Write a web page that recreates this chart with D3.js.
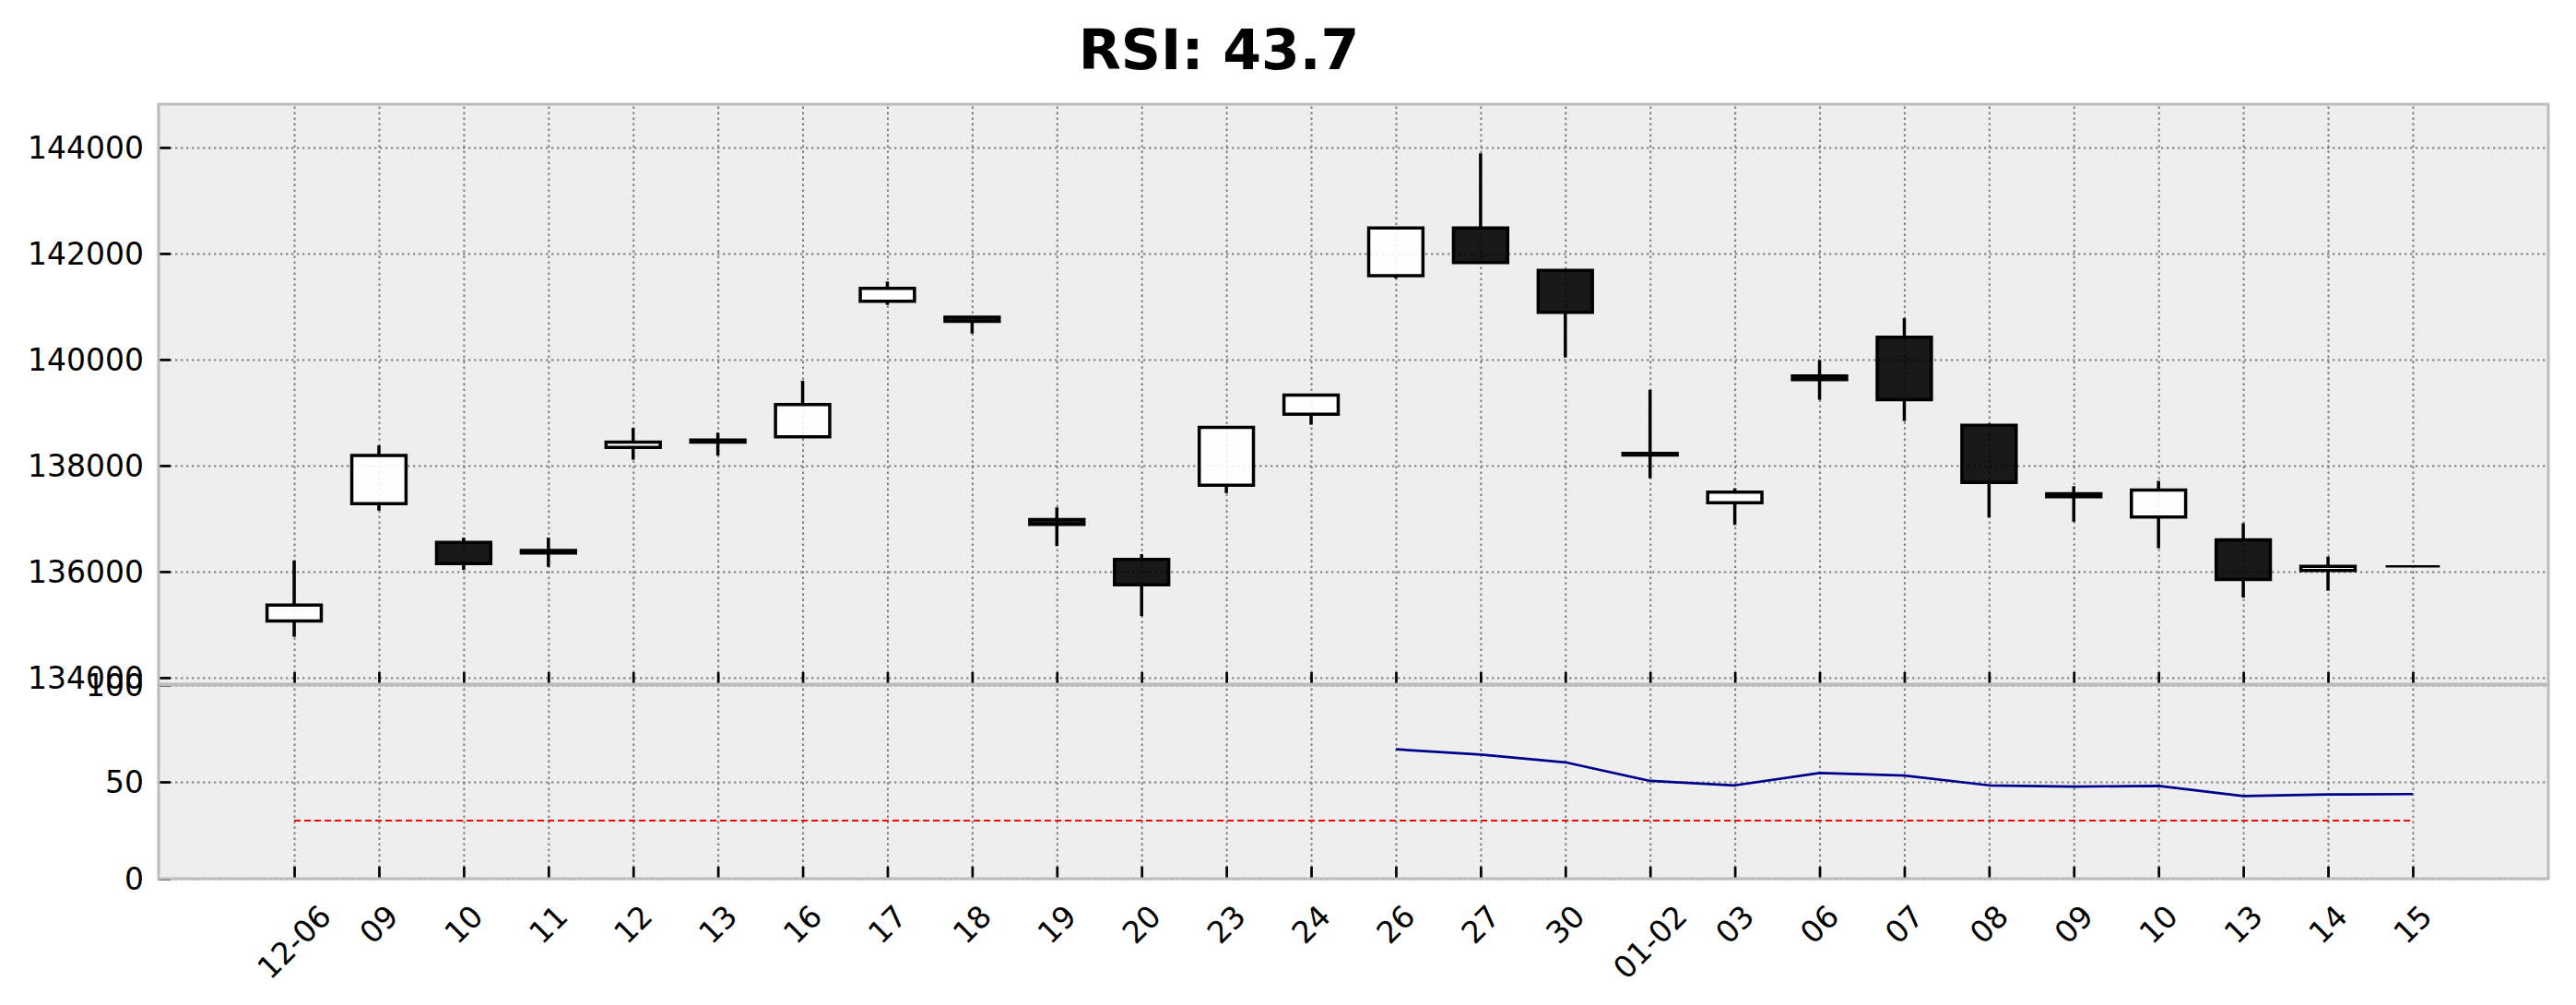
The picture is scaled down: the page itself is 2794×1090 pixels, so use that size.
<!DOCTYPE html>
<html>
<head>
<meta charset="utf-8">
<script src="https://cdn.jsdelivr.net/npm/d3@7"></script>
<style>
  body { margin: 0; background: #ffffff; }
  text { font-family: "DejaVu Sans", sans-serif; fill: #000; }
  .grid line { stroke: #7f7f7f; stroke-width: 2; stroke-dasharray: 2.4,3.6; }
  .grid path { display: none; }
  .ticks path { display: none; }
  .ticks line { stroke: #000; stroke-width: 2.7; }
  .ticks text { font-size: 33px; }
</style>
</head>
<body>
<svg id="chart" width="2794" height="1090"></svg>
<script>
// day labels, one per trading session
const dates = ["12-06", "09", "10", "11", "12", "13", "16", "17", "18", "19", "20", "23", "24",
               "26", "27", "30", "01-02", "03", "06", "07", "08", "09", "10", "13", "14", "15"];

const opens  = [135070, 137280, 136550, 136400, 138340, 138480, 138540, 141100, 140800, 136980, 136230, 137630, 138970,
                141580, 142480, 141680, 138230, 137300, 139690, 140420, 138760, 137470, 137030, 136600, 136020, 136100];
const closes = [135370, 138190, 136150, 136350, 138440, 138440, 139150, 141340, 140720, 136890, 135750, 138720, 139330,
                142480, 141830, 140890, 138200, 137500, 139620, 139240, 137680, 137410, 137540, 135850, 136100, 136100];
const highs  = [136210, 138380, 136640, 136640, 138710, 138620, 139600, 141470, 140820, 137210, 136330, 138740, 139350,
                142500, 143890, 141700, 139430, 137570, 139990, 140780, 138790, 137610, 137710, 136910, 136280, 136100];
const lows   = [134770, 137150, 136030, 136090, 138110, 138190, 138530, 141030, 140490, 136480, 135160, 137480, 138770,
                141530, 141810, 140040, 137760, 136880, 139240, 138840, 137020, 136940, 136440, 135510, 135640, 136100];

const rsiValues = [null, null, null, null, null, null, null, null, null, null, null, null, null,
                   66.8, 64.1, 60.1, 50.5, 48.2, 54.6, 53.3, 48.2, 47.6, 47.9, 42.7, 43.5, 43.7];
const oversold = 30;

const priceTicks = [134000, 136000, 138000, 140000, 142000, 144000];
const rsiTicks = [0, 50, 100];

const svg = d3.select("#chart");

const left = 172, right = 2764;
const mainTop = 113, mainBottom = 742;
const rsiTop = 743, rsiBottom = 953;

const x = d3.scaleLinear().domain([-1.6, 26.6]).range([left, right]);
const yPrice = d3.scaleLinear().domain([133877, 144816]).range([mainBottom, mainTop]);
const yRsi = d3.scaleLinear().domain([0, 100]).range([rsiBottom, rsiTop]);

const idx = d3.range(dates.length);
const step = x(1) - x(0);
const bodyWidth = step * 0.64;

// panel backgrounds
[[mainTop, mainBottom], [rsiTop, rsiBottom]].forEach(function (p) {
    svg.append("rect")
        .attr("x", left).attr("y", p[0])
        .attr("width", right - left).attr("height", p[1] - p[0])
        .attr("fill", "#eeeeee");
});

// grids
function drawGrid(yScale, yTicks, top, bottom) {
    svg.append("g")
        .attr("class", "grid")
        .attr("transform", "translate(0," + bottom + ")")
        .call(d3.axisBottom(x).tickValues(idx).tickSize(-(bottom - top)).tickFormat(""));
    svg.append("g")
        .attr("class", "grid")
        .attr("transform", "translate(" + left + ",0)")
        .call(d3.axisLeft(yScale).tickValues(yTicks).tickSize(-(right - left)).tickFormat(""));
}
drawGrid(yPrice, priceTicks, mainTop, mainBottom);
drawGrid(yRsi, rsiTicks, rsiTop, rsiBottom);

// candles
const candles = svg.append("g").selectAll("g")
    .data(idx)
    .enter().append("g");

candles.append("line")
    .attr("x1", function (i) { return x(i); })
    .attr("x2", function (i) { return x(i); })
    .attr("y1", function (i) { return yPrice(highs[i]); })
    .attr("y2", function (i) { return yPrice(Math.max(opens[i], closes[i])); })
    .attr("stroke", "#000").attr("stroke-width", 3.5);

candles.append("line")
    .attr("x1", function (i) { return x(i); })
    .attr("x2", function (i) { return x(i); })
    .attr("y1", function (i) { return yPrice(Math.min(opens[i], closes[i])); })
    .attr("y2", function (i) { return yPrice(lows[i]); })
    .attr("stroke", "#000").attr("stroke-width", 3.5);

candles.append("path")
    .attr("d", function (i) {
        const x0 = x(i) - bodyWidth / 2, x1 = x(i) + bodyWidth / 2;
        const y0 = yPrice(Math.max(opens[i], closes[i]));
        const y1 = yPrice(Math.min(opens[i], closes[i]));
        return "M" + x0 + "," + y0 + "H" + x1 + "V" + y1 + "H" + x0 + "Z";
    })
    .attr("fill", function (i) { return closes[i] >= opens[i] ? "#ffffff" : "#000000"; })
    .attr("fill-opacity", 0.9)
    .attr("stroke", "#000")
    .attr("stroke-width", function (i) { return opens[i] === closes[i] ? 2.4 : 3.5; })
    .attr("stroke-linejoin", "miter");

// rsi panel lines
svg.append("path")
    .datum(idx)
    .attr("fill", "none")
    .attr("stroke", "#ff0000")
    .attr("stroke-width", 2)
    .attr("stroke-dasharray", "7,4")
    .attr("d", d3.line().x(function (i) { return x(i); }).y(function () { return yRsi(oversold); }));

svg.append("path")
    .datum(idx)
    .attr("fill", "none")
    .attr("stroke", "#00008b")
    .attr("stroke-width", 2.7)
    .attr("stroke-linejoin", "round")
    .attr("d", d3.line()
        .defined(function (i) { return rsiValues[i] !== null; })
        .x(function (i) { return x(i); })
        .y(function (i) { return yRsi(rsiValues[i]); }));

// ticks
svg.append("g")
    .attr("class", "ticks")
    .attr("transform", "translate(" + left + ",0)")
    .call(d3.axisLeft(yPrice).tickValues(priceTicks).tickSize(-13).tickPadding(16).tickFormat(d3.format("d")))
    .selectAll("text").attr("dy", "0.36em");

svg.append("g")
    .attr("class", "ticks")
    .attr("transform", "translate(" + left + ",0)")
    .call(d3.axisLeft(yRsi).tickValues(rsiTicks).tickSize(-13).tickPadding(16))
    .selectAll("text").attr("dy", "0.36em");

svg.append("g")
    .attr("class", "ticks")
    .attr("transform", "translate(0," + mainBottom + ")")
    .call(d3.axisBottom(x).tickValues(idx).tickSize(-13).tickFormat(""));

const xAxis = svg.append("g")
    .attr("class", "ticks")
    .attr("transform", "translate(0," + rsiBottom + ")")
    .call(d3.axisBottom(x).tickValues(idx).tickSize(-13).tickFormat(function (i) { return dates[i]; }));

// rotate date labels 45deg, then centre their box under the tick
xAxis.selectAll(".tick").each(function (i) {
    const t = d3.select(this).select("text")
        .attr("y", 0).attr("dy", 0)
        .attr("text-anchor", "middle")
        .attr("transform", "rotate(-45)");
    const box = t.node().getBoundingClientRect();
    const dx = x(i) - (box.left + box.width / 2);
    const dy = 974 - box.top;
    t.attr("transform", "translate(" + dx + "," + dy + ") rotate(-45)");
});

// spines
[[mainTop, mainBottom], [rsiTop, rsiBottom]].forEach(function (p) {
    svg.append("rect")
        .attr("x", left).attr("y", p[0])
        .attr("width", right - left).attr("height", p[1] - p[0])
        .attr("fill", "none")
        .attr("stroke", "#bcbcbc")
        .attr("stroke-width", 3);
});

// title
svg.append("text")
    .attr("x", 1322)
    .attr("y", 75)
    .attr("text-anchor", "middle")
    .style("font-size", "60px")
    .style("font-weight", "bold")
    .text("RSI: " + rsiValues[rsiValues.length - 1].toFixed(1));
</script>
</body>
</html>
